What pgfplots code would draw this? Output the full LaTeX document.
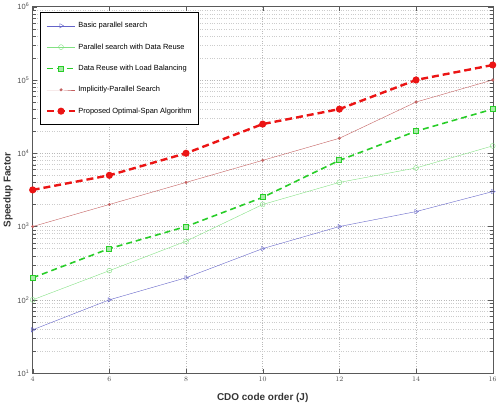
\documentclass[border=0pt]{standalone}
\usepackage{fontspec}
\setmainfont{Liberation Sans}
\usepackage{pgfplots}
\pgfplotsset{compat=1.18}

\definecolor{cbasic}{RGB}{100,100,200}
\definecolor{creuse}{RGB}{130,225,130}
\definecolor{cload}{RGB}{40,205,40}
\definecolor{cimpl}{RGB}{195,95,95}
\definecolor{cprop}{RGB}{235,20,20}

\begin{document}
\begin{tikzpicture}
\begin{axis}[
  scale only axis,
  width=462pt, height=368pt,
  ymode=log,
  xmin=4, xmax=16, ymin=10, ymax=1e6,
  xtick={4,6,8,10,12,14,16},
  ytick={10,100,1000,10000,100000,1000000},
  yticklabels={10\textsuperscript{1},10\textsuperscript{2},10\textsuperscript{3},10\textsuperscript{4},10\textsuperscript{5},10\textsuperscript{6}},
  grid=both,
  major grid style={gray!55, dotted},
  minor grid style={gray!40, dotted},
  axis line style={gray!70!black},
  tick style={gray!70!black},
  tick label style={font=\fontsize{7.5}{8}\selectfont, text=gray!60!black},
  xlabel={\textbf{CDO code order (J)}},
  ylabel={\textbf{Speedup Factor}},
  label style={font=\fontsize{10}{12}\selectfont, text=black!80},
  xlabel style={yshift=-5pt},
  ylabel style={yshift=-2pt},
  legend style={at={(0.017,0.985)}, anchor=north west,
    font=\fontsize{7.5}{8}\selectfont, draw=black, row sep=10.5pt,
    inner xsep=5pt, inner ysep=8pt},
  legend cell align=left,
  legend image code/.code={\draw[mark repeat=2,mark phase=2,#1]
    plot coordinates {(0cm,0cm) (0.5cm,0cm) (1cm,0cm)};},
]
% Basic parallel search
\addplot[cbasic, thin, mark=triangle, mark options={rotate=-90, solid}, mark size=2.5pt]
  coordinates {(4,39) (6,100) (8,200) (10,500) (12,1000) (14,1600) (16,3000)};
% Parallel search with Data Reuse
\addplot[creuse, thin, mark=o, mark size=2.5pt]
  coordinates {(4,100) (6,250) (8,630) (10,2000) (12,4000) (14,6300) (16,12600)};
% Data Reuse with Load Balancing
\addplot[cload, line width=1.6pt, dash pattern=on 6pt off 4pt, mark=square*, mark size=2.5pt,
  mark options={solid, fill=creuse!70, draw=cload, line width=0.8pt}]
  coordinates {(4,200) (6,500) (8,1000) (10,2500) (12,8000) (14,20000) (16,40000)};
% Implicitly-Parallel Search
\addplot[cimpl, thin, mark=*, mark size=1.3pt]
  coordinates {(4,1000) (6,2000) (8,4000) (10,8000) (12,16000) (14,50000) (16,100000)};
% Proposed Optimal-Span Algorithm
\addplot[cprop, line width=2.4pt, dash pattern=on 7pt off 4pt, mark=*, mark size=2.3pt, mark options={solid}]
  coordinates {(4,3160) (6,5000) (8,10000) (10,25000) (12,40000) (14,100000) (16,160000)};
\legend{Basic parallel search,
  Parallel search with Data Reuse,
  Data Reuse with Load Balancing,
  Implicitly-Parallel Search,
  Proposed Optimal-Span Algorithm}
% top margin above the box
\path (rel axis cs:0,1) ++(0,15pt);
\end{axis}
\end{tikzpicture}
\end{document}
